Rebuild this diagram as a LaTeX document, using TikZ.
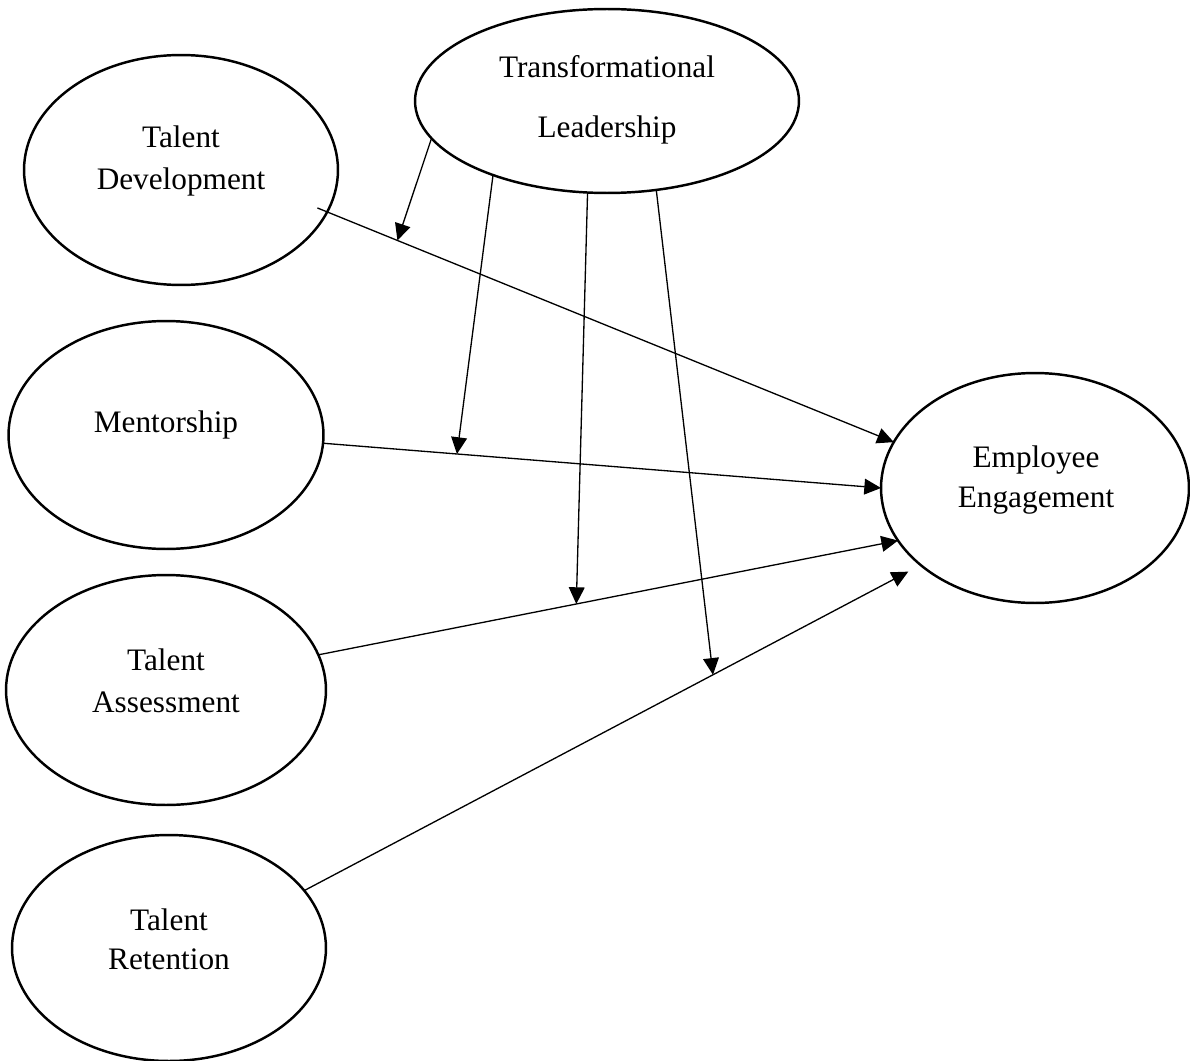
\documentclass[tikz,border=0pt]{standalone}
\usepackage{fontspec}
\setmainfont{Liberation Serif}
\usetikzlibrary{shapes.geometric,arrows.meta}

\tikzset{
  construct/.style={ellipse, draw, line width=1.4pt, inner sep=0pt, outer sep=0pt},
  caption/.style={align=center, font=\fontsize{17.8}{23.8}\selectfont, inner sep=0pt},
  path/.style={line width=0.75pt, -{Triangle[length=9.5pt,width=9pt]}},
}

\begin{document}
\begin{tikzpicture}[x=0.02cm, y=-0.02cm]
  \useasboundingbox (0,0) rectangle (1190,1061);

  % constructs
  \node[construct, minimum width=6.28cm, minimum height=4.60cm] (TD) at (181,170) {};
  \node[construct, minimum width=7.68cm, minimum height=3.68cm] (TL) at (607,101) {};
  \node[construct, minimum width=6.30cm, minimum height=4.56cm] (MT) at (166,435) {};
  \node[construct, minimum width=6.16cm, minimum height=4.60cm] (EE) at (1035,488) {};
  \node[construct, minimum width=6.40cm, minimum height=4.60cm] (TA) at (166,690) {};
  \node[construct, minimum width=6.28cm, minimum height=4.52cm] (TR) at (169,948) {};

  % labels
  \node[caption] (TDt) at (181,161) {Talent\\Development};
  \node[caption, font=\fontsize{17.8}{34}\selectfont] (TLt) at (607,100) {Transformational\\Leadership};
  \node[caption] (MTt) at (166,425) {Mentorship};
  \node[caption, font=\fontsize{17.8}{22.7}\selectfont] (EEt) at (1036,480) {Employee\\Engagement};
  \node[caption] (TAt) at (166,681) {Talent\\Assessment};
  \node[caption, font=\fontsize{17.8}{22}\selectfont] (TRt) at (169,939) {Talent\\Retention};

  % direct effects on engagement
  \draw[path, shorten <=-6pt] (TD.-16) -- (EE.162) coordinate[pos=0.124] (mTD);
  \draw[path] (MT.-3) -- (EE.west) coordinate[pos=0.24] (mMT);
  \draw[path] (TA.13) -- (EE.201) coordinate[pos=0.445] (mTA);
  \path (TR.23) -- (EE.214) coordinate[pos=0.663] (mTR);
  \draw[path, shorten >=8pt] (TR.23) -- (EE.214);

  % moderating effects of leadership
  \draw[path] (TL.192) -- (mTD);
  \draw[path] (TL.213) -- (mMT);
  \draw[path] (TL.258) -- (mTA);
  \draw[path] (TL.299) -- (mTR);
\end{tikzpicture}
\end{document}
